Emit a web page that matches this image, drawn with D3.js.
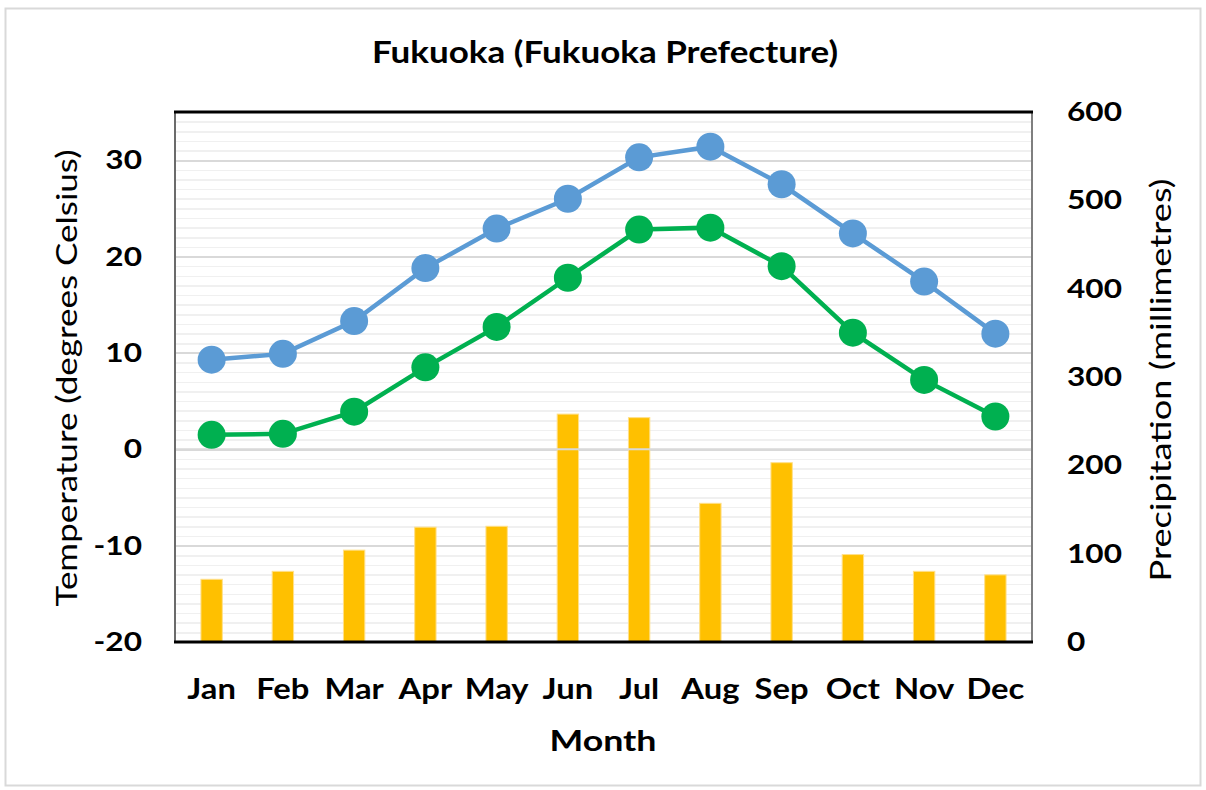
<!DOCTYPE html>
<html>
<head>
<meta charset="utf-8">
<style>
    body { margin: 0; background: #fff; }
    svg { display: block; font-family: Lato, 'Open Sans', sans-serif; }
    .tick text { font-size: 27px; font-weight: 700; fill: #000; }
    .grid line { shape-rendering: crispEdges; }
</style>
</head>
<body>
<svg width="1206" height="790"></svg>

<script src="https://d3js.org/d3.v7.min.js"></script>
<script>
    // values
    let months = ['Jan', 'Feb', 'Mar', 'Apr', 'May', 'Jun', 'Jul', 'Aug', 'Sep', 'Oct', 'Nov', 'Dec'];
    let highTemp = [9.3, 9.9, 13.3, 18.8, 22.9, 26.0, 30.3, 31.4, 27.5, 22.4, 17.4, 12.0];
    let lowTemp = [1.5, 1.6, 3.9, 8.5, 12.7, 17.8, 22.8, 23.0, 19.0, 12.1, 7.2, 3.4];
    let precip = [71, 80, 104, 130, 131, 258, 254, 157, 203, 99, 80, 76];
    let tempTicks = [-20, -10, 0, 10, 20, 30];
    let precipTicks = [0, 100, 200, 300, 400, 500, 600];

    let svg = d3.select('svg');
    let plotLeft = 176, plotRight = 1031, plotTop = 112, plotBottom = 642;
    let stretch = 1.17;   // source text is wider than the fonts we have

    let x = d3.scaleBand().domain(months).range([plotLeft, plotRight]).padding(0);
    let xc = m => x(m) + x.bandwidth() / 2;
    let yT = d3.scaleLinear().domain([-20, 35]).range([plotBottom, plotTop]);
    let yP = d3.scaleLinear().domain([0, 600]).range([plotBottom, plotTop]);

    // outer frame
    svg.append('rect')
        .attr('x', 5.5).attr('y', 8.5)
        .attr('width', 1195).attr('height', 777)
        .attr('fill', 'none')
        .attr('stroke', '#d9d9d9')
        .attr('stroke-width', 2);

    // minor grid every degree, major every ten
    let minor = d3.range(-19, 35, 1).filter(t => t % 10 != 0);
    let major = tempTicks.filter(t => t > -20);

    svg.append('g')
        .attr('class', 'grid')
        .attr('transform', `translate(${plotLeft},0)`)
        .call(d3.axisLeft(yT).tickValues(minor).tickSize(-(plotRight - plotLeft)).tickFormat(''))
        .call(g => g.select('.domain').remove())
        .selectAll('line')
        .attr('stroke', '#f0f0f0')
        .attr('stroke-width', 1.5);

    svg.append('g')
        .attr('class', 'grid')
        .attr('transform', `translate(${plotLeft},0)`)
        .call(d3.axisLeft(yT).tickValues(major).tickSize(-(plotRight - plotLeft)).tickFormat(''))
        .call(g => g.select('.domain').remove())
        .selectAll('line')
        .attr('stroke', '#d9d9d9')
        .attr('stroke-width', 2);

    // precipitation bars
    let bw = x.bandwidth() * 0.3;
    svg.append('g')
        .selectAll('rect')
        .data(precip)
        .join('rect')
        .attr('x', (d, i) => xc(months[i]) - bw / 2)
        .attr('y', d => yP(d))
        .attr('width', bw)
        .attr('height', d => yP(0) - yP(d))
        .attr('fill', '#ffc000')
        .attr('stroke', '#ffe08a')
        .attr('stroke-width', 1);

    // the 0 degree gridline shows over the bars in the source
    svg.append('line')
        .attr('x1', plotLeft).attr('x2', plotRight)
        .attr('y1', yT(0)).attr('y2', yT(0))
        .attr('stroke', '#d9d9d9')
        .attr('stroke-width', 2);

    // plot frame
    svg.append('line').attr('x1', plotLeft - 1).attr('x2', plotLeft - 1).attr('y1', plotTop).attr('y2', plotBottom)
        .attr('stroke', '#6b6b6b').attr('stroke-width', 2);
    svg.append('line').attr('x1', plotRight + 1).attr('x2', plotRight + 1).attr('y1', plotTop).attr('y2', plotBottom)
        .attr('stroke', '#7f7f7f').attr('stroke-width', 2);
    svg.append('line').attr('x1', plotLeft - 2).attr('x2', plotRight + 2).attr('y1', plotTop).attr('y2', plotTop)
        .attr('stroke', '#000').attr('stroke-width', 3);
    svg.append('line').attr('x1', plotLeft - 2).attr('x2', plotRight + 2).attr('y1', plotBottom).attr('y2', plotBottom)
        .attr('stroke', '#000').attr('stroke-width', 3);

    // temperature lines
    let series = [
        { values: highTemp, color: '#5b9bd5' },
        { values: lowTemp, color: '#00b050' }
    ];
    let line = d3.line()
        .x((d, i) => xc(months[i]))
        .y(d => yT(d));

    series.forEach(s => {
        svg.append('path')
            .datum(s.values)
            .attr('d', line)
            .attr('fill', 'none')
            .attr('stroke', s.color)
            .attr('stroke-width', 4.5);
        svg.append('g')
            .selectAll('circle')
            .data(s.values)
            .join('circle')
            .attr('cx', (d, i) => xc(months[i]))
            .attr('cy', d => yT(d))
            .attr('r', 14)
            .attr('fill', s.color);
    });

    // axes (plain hyphen for negatives, like the source)
    let leftAxis = svg.append('g')
        .attr('transform', 'translate(142,0)')
        .call(d3.axisLeft(yT).tickValues(tempTicks).tickSize(0).tickPadding(0).tickFormat(d => String(d)));
    leftAxis.select('.domain').remove();

    let rightAxis = svg.append('g')
        .attr('transform', 'translate(1067,0)')
        .call(d3.axisRight(yP).tickValues(precipTicks).tickSize(0).tickPadding(0).tickFormat(d => String(d)));
    rightAxis.select('.domain').remove();

    let bottomAxis = svg.append('g')
        .attr('transform', `translate(0,${plotBottom})`)
        .call(d3.axisBottom(x).tickSize(0).tickPadding(0));
    bottomAxis.select('.domain').remove();
    bottomAxis.selectAll('text')
        .attr('y', 57)
        .attr('dy', 0)
        .style('font-size', '28px');

    svg.selectAll('.tick text')
        .attr('transform', `scale(${stretch},1)`);
    svg.selectAll('g').attr('font-family', null).attr('font-size', null);

    // titles
    svg.append('text')
        .attr('x', 605).attr('y', 63)
        .attr('text-anchor', 'middle')
        .attr('textLength', 466)
        .attr('lengthAdjust', 'spacingAndGlyphs')
        .style('font-size', '30px')
        .style('font-weight', 700)
        .text('Fukuoka (Fukuoka Prefecture)');

    svg.append('text')
        .attr('x', 603).attr('y', 751)
        .attr('text-anchor', 'middle')
        .attr('textLength', 107)
        .attr('lengthAdjust', 'spacingAndGlyphs')
        .style('font-size', '29px')
        .style('font-weight', 700)
        .text('Month');

    svg.append('text')
        .attr('transform', 'translate(77,378) rotate(-90)')
        .attr('text-anchor', 'middle')
        .attr('textLength', 457)
        .attr('lengthAdjust', 'spacingAndGlyphs')
        .style('font-size', '29px')
        .text('Temperature (degrees Celsius)');

    svg.append('text')
        .attr('transform', 'translate(1171,380) rotate(-90)')
        .attr('text-anchor', 'middle')
        .attr('textLength', 403)
        .attr('lengthAdjust', 'spacingAndGlyphs')
        .style('font-size', '29px')
        .text('Precipitation (millimetres)');
</script>
</body>
</html>
